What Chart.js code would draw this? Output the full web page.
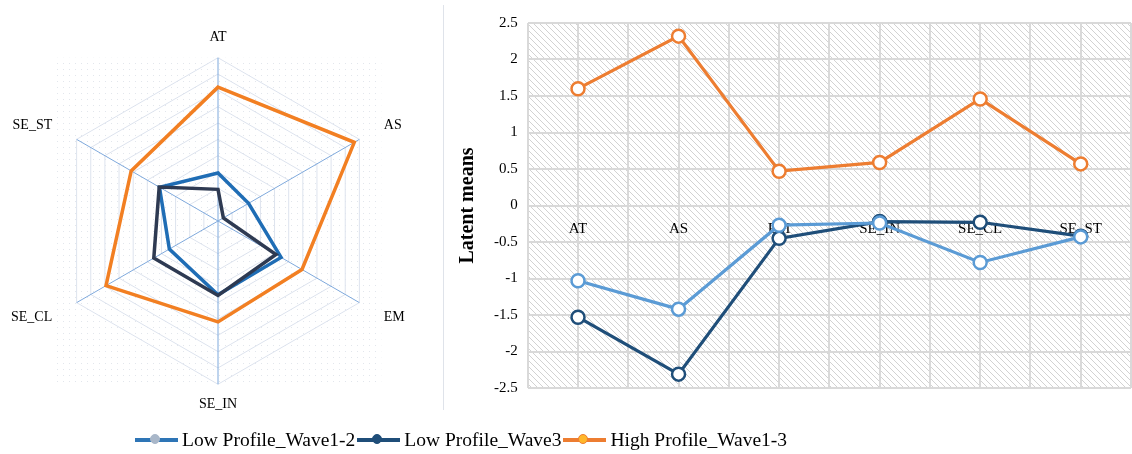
<!DOCTYPE html>
<html>
<head>
<meta charset="utf-8">
<script src="https://cdn.jsdelivr.net/npm/chart.js@4"></script>
<style>
  body { margin:0; width:1132px; height:454px; overflow:hidden; background:#fff; position:relative; font-family:"Liberation Serif", serif; }
  .box { position:absolute; }
  #legend { position:absolute; left:133px; top:428px; height:24px; display:flex; align-items:center; font-size:19.5px; color:#000; white-space:nowrap; }
  .item { display:flex; align-items:center; }
  .key { position:relative; width:43px; height:14px; margin-right:4px; margin-left:2px; }
  .key .ln { position:absolute; left:0; right:0; top:5px; height:4px; }
  .key .mk { position:absolute; left:15px; top:1px; width:10px; height:10px; box-sizing:border-box; border-radius:50%; border:1.5px solid; }
</style>
</head>
<body>
<div class="box" style="left:0;top:0"><canvas id="radar" width="440" height="430"></canvas></div>
<div class="box" style="left:443px;top:5px;width:1px;height:405px;background:#dfe3ea"></div>
<div class="box" style="left:444px;top:0"><canvas id="line" width="696" height="407"></canvas></div>
<div id="legend"></div>
<script>
(function(){
  // data
  const categories = ['AT', 'AS', 'EM', 'SE_IN', 'SE_CL', 'SE_ST'];
  const seriesNames = ['Low Profile_Wave1-2', 'Low Profile_Wave3', 'High Profile_Wave1-3'];
  const lowWave12 = [-1.03, -1.42, -0.27, -0.24, -0.78, -0.43];
  const lowWave3 = [-1.53, -2.31, -0.45, -0.22, -0.23, -0.42];
  const highWave13 = [1.60, 2.32, 0.47, 0.59, 1.46, 0.57];
  const yMin = -2.5, yMax = 2.5, yStep = 0.5;

  const lineColors = ['#5b9bd5', '#1f4e79', '#ed7d31'];
  const radarColors = ['#1f6db5', '#2e3a52', '#f27f22'];
  const legendMarks = ['#a9b7c9', '#1f4e79', '#ffb72b'];
  const serif = '"Liberation Serif", "Times New Roman", serif';

  Chart.defaults.font.family = serif;
  Chart.defaults.color = '#000';

  function makePattern(kind) {
    const c = document.createElement('canvas');
    const g = c.getContext('2d');
    c.width = c.height = 6;
    if (kind === 'hatch') {
      g.strokeStyle = '#d2d2d2';
      g.lineWidth = 1;
      g.beginPath();
      g.moveTo(-1, -1); g.lineTo(7, 7);
      g.stroke();
    } else {
      g.fillStyle = '#e2e6ec';
      g.fillRect(3, 3, 1, 1);
    }
    return g.createPattern(c, 'repeat');
  }

  // backgrounds behind the plots
  const hatchBg = {
    id: 'hatchBg',
    beforeDraw(chart) {
      const a = chart.chartArea, ctx = chart.ctx;
      ctx.save();
      ctx.fillStyle = makePattern('hatch');
      ctx.fillRect(a.left, a.top, a.right - a.left, a.bottom - a.top);
      ctx.restore();
    }
  };
  const dotBg = {
    id: 'dotBg',
    beforeDraw(chart) {
      const s = chart.scales.r, ctx = chart.ctx;
      const r = s.drawingArea;
      ctx.save();
      ctx.fillStyle = makePattern('dots');
      ctx.fillRect(s.xCenter - r, s.yCenter - r, 2 * r, 2 * r);
      ctx.restore();
    }
  };

  // side labels sit a bit further out than the top/bottom ones
  const sidePad = '    ';
  function radarLabel(label, i) {
    const s = Math.sin(2 * Math.PI * i / categories.length);
    if (s > 0.1) return sidePad + label;
    if (s < -0.1) return label + sidePad;
    return label;
  }

  // radar (left)
  new Chart(document.getElementById('radar'), {
    type: 'radar',
    data: {
      labels: categories,
      datasets: [
        { label: seriesNames[0], data: lowWave12, borderColor: radarColors[0], order: 2 },
        { label: seriesNames[1], data: lowWave3, borderColor: radarColors[1], order: 1 },
        { label: seriesNames[2], data: highWave13, borderColor: radarColors[2], order: 3 }
      ].map(ds => Object.assign(ds, { fill: false, borderWidth: 3.5, pointRadius: 0, tension: 0 }))
    },
    options: {
      responsive: false,
      animation: false,
      layout: { padding: { top: 28, bottom: 15, left: 0, right: 26 } },
      plugins: { legend: { display: false }, tooltip: { enabled: false } },
      scales: {
        r: {
          min: yMin, max: yMax,
          ticks: { stepSize: yStep, display: false },
          grid: { color: '#dde3ee', lineWidth: 1 },
          angleLines: { color: '#7fa9dc', lineWidth: 1 },
          pointLabels: { font: { size: 14, family: serif }, color: '#000', padding: 12, callback: radarLabel }
        }
      }
    },
    plugins: [dotBg]
  });

  // line chart (right)
  const gridCol = '#d9d9d9';
  new Chart(document.getElementById('line'), {
    type: 'line',
    data: {
      labels: categories,
      datasets: [
        { label: seriesNames[0], data: lowWave12, borderColor: lineColors[0] },
        { label: seriesNames[1], data: lowWave3, borderColor: lineColors[1] },
        { label: seriesNames[2], data: highWave13, borderColor: lineColors[2] }
      ].map(ds => Object.assign(ds, {
        borderWidth: 3.2, pointRadius: 6.5, pointBorderWidth: 2.5,
        pointBackgroundColor: '#fff', pointBorderColor: ds.borderColor, tension: 0, xAxisID: 'x'
      }))
    },
    options: {
      responsive: false,
      animation: false,
      layout: { padding: { top: 23, bottom: 4, left: 8, right: 0 } },
      plugins: { legend: { display: false }, tooltip: { enabled: false } },
      scales: {
        x: {
          type: 'category',
          position: { y: 0 },
          offset: true,
          grid: { color: gridCol, lineWidth: 2, drawTicks: false },
          border: { display: false },
          ticks: { font: { size: 15 }, color: '#000', padding: 15 }
        },
        x2: {
          type: 'category',
          position: 'bottom',
          offset: true,
          grid: { offset: true, color: gridCol, lineWidth: 2, drawTicks: false },
          border: { display: false },
          ticks: { display: false }
        },
        y: {
          min: yMin, max: yMax,
          ticks: { stepSize: yStep, font: { size: 15 }, color: '#000', padding: 10, callback: v => String(v) },
          grid: { color: gridCol, lineWidth: 2, drawTicks: false },
          border: { display: false },
          title: { display: true, text: 'Latent means', font: { size: 20, weight: 'bold' }, color: '#000', padding: 4 }
        }
      }
    },
    plugins: [hatchBg]
  });

  // shared legend below both panels
  const legend = document.getElementById('legend');
  seriesNames.forEach((name, i) => {
    const item = document.createElement('div');
    item.className = 'item';
    const key = document.createElement('span');
    key.className = 'key';
    const ln = document.createElement('span');
    ln.className = 'ln';
    ln.style.background = i === 0 ? '#2e75b6' : lineColors[i];
    const mk = document.createElement('span');
    mk.className = 'mk';
    mk.style.background = legendMarks[i];
    mk.style.borderColor = i === 2 ? lineColors[2] : legendMarks[i];
    key.appendChild(ln); key.appendChild(mk);
    const tx = document.createElement('span');
    tx.textContent = name;
    item.appendChild(key); item.appendChild(tx);
    legend.appendChild(item);
  });
})();
</script>
</body>
</html>
